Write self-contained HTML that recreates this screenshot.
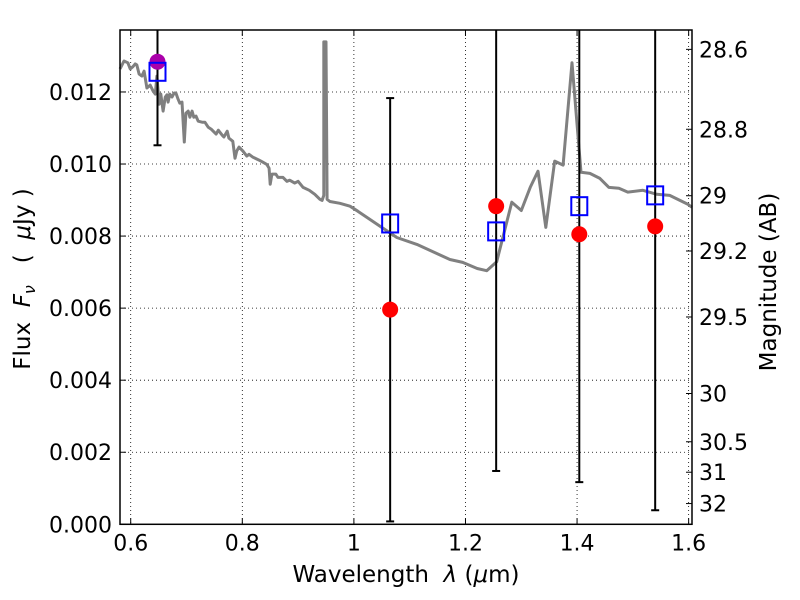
<!DOCTYPE html>
<html><head><meta charset="utf-8"><style>
html,body{margin:0;padding:0;background:#fff;}
svg{display:block;font-family:"DejaVu Sans","Liberation Sans",sans-serif;}
</style></head><body>
<svg id="chart" width="800" height="600" viewBox="0 0 800 600" xmlns="http://www.w3.org/2000/svg">
<rect width="800" height="600" fill="#fff"/>
<g id="grid"></g>
<g id="model"></g>
<g id="errs"></g>
<g id="marks"></g>
<rect x="120" y="30" width="572" height="494.3" fill="none" stroke="#000" stroke-width="1.5"/>
<g id="ticks"></g>
<text x="406" y="582" font-size="23" text-anchor="middle" xml:space="preserve">Wavelength  <tspan font-style="italic">λ</tspan> (<tspan font-style="italic">μ</tspan>m)</text>
<text transform="translate(30,279) rotate(-90)" font-size="23" text-anchor="middle" xml:space="preserve">Flux  <tspan font-style="italic">F</tspan><tspan font-style="italic" font-size="16" dy="5">ν</tspan><tspan dy="-5">   (  </tspan><tspan font-style="italic">μ</tspan>Jy )</text>
<text transform="translate(776,282) rotate(-90)" font-size="23" text-anchor="middle">Magnitude (AB)</text>
</svg>
<script>
const modelWave=[0.5808,0.588,0.595,0.599,0.604,0.608,0.611,0.615,0.620,0.624,0.629,0.635,0.640,0.644,0.647,0.651,0.654,0.658,0.662,0.665,0.667,0.670,0.674,0.678,0.681,0.685,0.688,0.692,0.696,0.699,0.703,0.706,0.710,0.713,0.717,0.721,0.728,0.733,0.739,0.744,0.753,0.757,0.764,0.767,0.773,0.776,0.783,0.787,0.790,0.794,0.801,0.808,0.812,0.819,0.830,0.837,0.844,0.848,0.850,0.853,0.860,0.864,0.873,0.880,0.885,0.894,0.900,0.909,0.920,0.930,0.939,0.943,0.946,0.946,0.950,0.952,0.957,0.975,0.993,1.007,1.077,1.113,1.172,1.195,1.221,1.238,1.256,1.283,1.300,1.316,1.330,1.344,1.360,1.375,1.391,1.407,1.423,1.441,1.457,1.475,1.491,1.518,1.543,1.566,1.599,1.606];
const modelFlux=[0.01264,0.01286,0.01281,0.01264,0.01270,0.01278,0.01275,0.01250,0.01244,0.01258,0.01211,0.01219,0.01203,0.01194,0.01244,0.01166,0.01194,0.01147,0.01186,0.01192,0.01172,0.01194,0.01186,0.01197,0.01197,0.01180,0.01169,0.01172,0.01061,0.01141,0.01147,0.01130,0.01147,0.01130,0.01133,0.01119,0.01116,0.01116,0.01102,0.01097,0.01083,0.01094,0.01080,0.01075,0.01091,0.01072,0.01063,0.01016,0.01036,0.01047,0.01036,0.01022,0.01027,0.01019,0.01011,0.01005,0.00999,0.00988,0.00944,0.00972,0.00972,0.00963,0.00963,0.00952,0.00955,0.00947,0.00952,0.00935,0.00927,0.00916,0.00902,0.00899,0.00913,0.01339,0.01339,0.00902,0.00896,0.00891,0.00883,0.00869,0.00796,0.00777,0.00735,0.00727,0.00710,0.00704,0.00729,0.00894,0.00871,0.00935,0.00980,0.00824,0.01008,0.00997,0.01281,0.00977,0.00974,0.00960,0.00935,0.00933,0.00922,0.00927,0.00916,0.00913,0.00888,0.00880];
const obsWave=[0.648,1.065,1.255,1.404,1.540];
const obsFlux=[0.01284,0.00596,0.00883,0.00805,0.00827];
const obsColor=["#aa00aa","#ff0000","#ff0000","#ff0000","#ff0000"];
const modelPhot=[0.01256,0.00835,0.00813,0.00883,0.00913];
const errLow=[0.01052,0.00008,0.00148,0.00117,0.00039];
const errHigh=[0.0150,0.01183,0.0150,0.0150,0.0150];
const xTicks=[0.6,0.8,1.0,1.2,1.4,1.6];
const xTickLabels=["0.6","0.8","1","1.2","1.4","1.6"];
const yTicks=[0,0.002,0.004,0.006,0.008,0.010,0.012];
const yTickLabels=["0.000","0.002","0.004","0.006","0.008","0.010","0.012"];
const magTicks=[28.6,28.8,29,29.2,29.5,30,30.5,31,32];
const magTickLabels=["28.6","28.8","29","29.2","29.5","30","30.5","31","32"];

const NS="http://www.w3.org/2000/svg";
const L=120,R=692,T=30,B=524.3;
const xmin=0.5808,xmax=1.606,ymin=0,ymax=0.01372;
const sx=v=>L+(v-xmin)/(xmax-xmin)*(R-L);
const sy=v=>B-(v-ymin)/(ymax-ymin)*(B-T);
const magToFlux=m=>Math.pow(10,(23.9-m)/2.5);
function mk(tag,attrs,parent){const e=document.createElementNS(NS,tag);for(const k in attrs)e.setAttribute(k,attrs[k]);parent.appendChild(e);return e;}
const grid=document.getElementById('grid'),ticks=document.getElementById('ticks');
xTicks.forEach((v,i)=>{
  const x=sx(v);
  const g=mk('line',{x1:x,x2:x,y1:T,y2:B,stroke:'#000','stroke-width':0.8,'stroke-dasharray':'1,3'},grid);
  
  
  mk('line',{x1:x,x2:x,y1:B,y2:B-6,stroke:'#000','stroke-width':1},ticks);
  mk('line',{x1:x,x2:x,y1:T,y2:T+6,stroke:'#000','stroke-width':1},ticks);
  const t=mk('text',{x:x,y:B+26,'font-size':22,'text-anchor':'middle'},ticks);
  t.textContent=xTickLabels[i];
  
  
});
yTicks.forEach((v,i)=>{
  const y=sy(v);
  if(v>0){const g=mk('line',{x1:L,x2:R,y1:y,y2:y,stroke:'#000','stroke-width':0.8,'stroke-dasharray':'1,3'},grid);
  
  }
  mk('line',{x1:L,x2:L+6,y1:y,y2:y,stroke:'#000','stroke-width':1},ticks);
  const t=mk('text',{x:L-8,y:y+8,'font-size':22,'text-anchor':'end'},ticks);
  t.textContent=yTickLabels[i];
  
  
});
magTicks.forEach((m,i)=>{
  const y=sy(magToFlux(m));
  mk('line',{x1:R,x2:R-6,y1:y,y2:y,stroke:'#000','stroke-width':1},ticks);
  const t=mk('text',{x:R+7,y:y+8,'font-size':22,'text-anchor':'start'},ticks);
  t.textContent=magTickLabels[i];
  
  
});
const clipY=v=>Math.max(T,Math.min(B,sy(v)));
let d='';modelWave.forEach((w,i)=>{d+=(i?'L':'M')+sx(w).toFixed(1)+','+sy(modelFlux[i]).toFixed(1);});
const p=mk('path',{d:d,fill:'none',stroke:'#808080','stroke-width':3,'stroke-linejoin':'round'},document.getElementById('model'));


const errs=document.getElementById('errs'),marks=document.getElementById('marks');
obsWave.forEach((w,i)=>{
  const x=sx(w),y1=clipY(errLow[i]),y2=clipY(errHigh[i]);
  const e=mk('line',{x1:x,x2:x,y1:y1,y2:y2,stroke:'#000','stroke-width':2},errs);
  
  
  mk('line',{x1:x-4,x2:x+4,y1:y1,y2:y1,stroke:'#000','stroke-width':2},errs);
  if(errHigh[i]<ymax)mk('line',{x1:x-4,x2:x+4,y1:y2,y2:y2,stroke:'#000','stroke-width':2},errs);
});
obsWave.forEach((w,i)=>{
  const x=sx(w);
  const c=mk('circle',{cx:x,cy:sy(obsFlux[i]),r:8,fill:obsColor[i]},marks);
  
  
});
obsWave.forEach((w,i)=>{
  const x=sx(w),y=sy(modelPhot[i]);
  const s=mk('rect',{x:x-8,y:y-9,width:16,height:18,fill:'none',stroke:'#0000ff','stroke-width':2},marks);
  
  
});
</script>
</body></html>
